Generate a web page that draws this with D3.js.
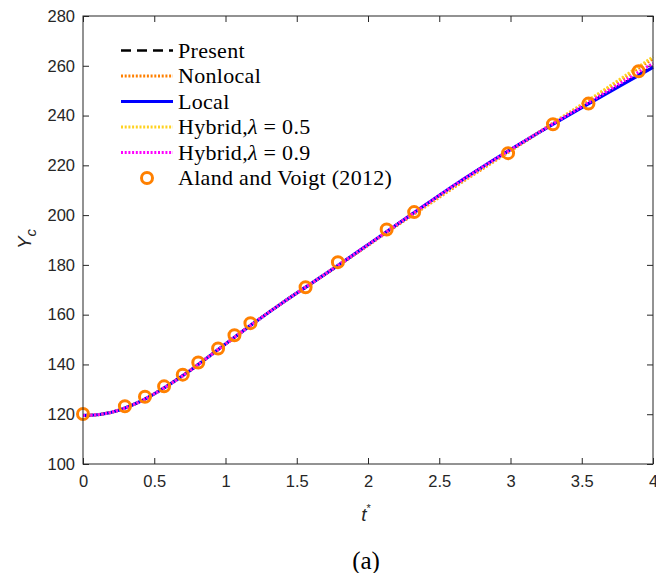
<!DOCTYPE html>
<html>
<head>
<meta charset="utf-8">
<script src="https://cdn.jsdelivr.net/npm/d3@7"></script>
<style>
  body { margin: 0; background: #fff; }
  .tick text { font-family: "Liberation Sans", Arial, sans-serif; font-size: 16.5px; fill: #262626; }
  .legend text { font-family: "Liberation Serif", serif; font-size: 22px; fill: #000; letter-spacing: 0.3px; }
</style>
</head>
<body>
<div id="chart"></div>
<script>
// time grid for the simulated curves
var tGrid = [0, 0.1, 0.2, 0.3, 0.4, 0.5, 0.6, 0.7, 0.8, 0.9, 1.0, 1.2, 1.4, 1.6, 1.8, 2.0, 2.2, 2.4, 2.6, 2.8, 3.0, 3.2, 3.4, 3.6, 3.8, 4.0];

var present  = [119.5, 119.8, 120.8, 122.6, 125.1, 128.2, 131.7, 135.5, 139.6, 143.9, 148.2, 156.7, 164.8, 172.5, 180.2, 188.1, 196.1, 204.0, 211.8, 219.2, 226.3, 233.2, 240.0, 246.6, 253.2, 259.8];
var nonlocal = [119.5, 119.8, 120.8, 122.6, 125.1, 128.2, 131.7, 135.5, 139.6, 143.9, 148.2, 156.7, 164.8, 172.4, 180.0, 187.8, 195.7, 203.3, 211.0, 218.5, 225.8, 233.2, 240.5, 247.8, 255.3, 262.9];
var local    = [119.5, 119.8, 120.8, 122.6, 125.1, 128.2, 131.7, 135.5, 139.6, 143.9, 148.2, 156.7, 164.8, 172.5, 180.2, 188.1, 196.1, 204.0, 211.8, 219.2, 226.3, 233.2, 239.9, 246.4, 252.9, 259.4];
var hybrid05 = [119.5, 119.8, 120.8, 122.6, 125.1, 128.2, 131.7, 135.5, 139.6, 143.9, 148.2, 156.7, 164.8, 172.5, 180.2, 188.0, 196.0, 203.6, 211.3, 218.8, 226.0, 233.4, 240.8, 248.2, 255.8, 263.6];
var hybrid09 = [119.5, 119.8, 120.8, 122.6, 125.1, 128.2, 131.7, 135.5, 139.6, 143.9, 148.2, 156.7, 164.8, 172.5, 180.2, 188.1, 196.1, 204.0, 211.8, 219.2, 226.3, 233.3, 240.2, 247.0, 254.0, 261.0];

// Aland and Voigt (2012) reference points
var refT = [0, 0.294, 0.435, 0.569, 0.700, 0.809, 0.948, 1.063, 1.175, 1.562, 1.789, 2.131, 2.324, 2.983, 3.298, 3.547, 3.899];
var refY = [120.1, 123.2, 127.0, 131.2, 135.9, 140.8, 146.4, 151.7, 156.6, 171.0, 181.1, 194.2, 201.2, 224.9, 236.5, 244.8, 257.8];

var xTicks = [0, 0.5, 1, 1.5, 2, 2.5, 3, 3.5, 4];
var yTicks = [100, 120, 140, 160, 180, 200, 220, 240, 260, 280];

var series = [
  { name: "Present",  values: present,  color: "#000000", width: 2.5, dash: "10,6" },
  { name: "Nonlocal", values: nonlocal, color: "#FF8000", width: 3,   dash: "2,1.7" },
  { name: "Local",    values: local,    color: "#0000FF", width: 3.2, dash: null },
  { name: "Hybrid05", values: hybrid05, color: "#FFD21F", width: 3,   dash: "2,1.7" },
  { name: "Hybrid09", values: hybrid09, color: "#FF00FF", width: 3,   dash: "2,1.7" }
];

var margin = { top: 16, right: 3, bottom: 109, left: 83 };
var W = 656, H = 573;
var width = W - margin.left - margin.right;
var height = H - margin.top - margin.bottom;

var svg = d3.select("#chart").append("svg")
  .attr("width", W)
  .attr("height", H);

var plot = svg.append("g")
  .attr("transform", "translate(" + margin.left + "," + margin.top + ")");

var xScale = d3.scaleLinear().domain([0, 4]).range([0, width]);
var yScale = d3.scaleLinear().domain([100, 280]).range([height, 0]);

var axisColor = "#262626";

// axes (MATLAB style: inward ticks on all four sides)
var xAxis = d3.axisBottom(xScale).tickValues(xTicks).tickSizeInner(-6).tickSizeOuter(0).tickPadding(11)
  .tickFormat(d3.format("~g"));
var xAxisTop = d3.axisTop(xScale).tickValues(xTicks).tickSizeInner(-6).tickSizeOuter(0).tickFormat("");
var yAxis = d3.axisLeft(yScale).tickValues(yTicks).tickSizeInner(-6).tickSizeOuter(0).tickPadding(8);
var yAxisRight = d3.axisRight(yScale).tickValues(yTicks).tickSizeInner(-6).tickSizeOuter(0).tickFormat("");

function styleAxis(g) {
  g.select(".domain").remove();
  g.selectAll(".tick line").attr("stroke", axisColor).attr("stroke-width", 1);
}

plot.append("g").attr("transform", "translate(0," + height + ")").call(xAxis).call(styleAxis);
plot.append("g").call(xAxisTop).call(styleAxis);
plot.append("g").call(yAxis).call(styleAxis);
plot.append("g").attr("transform", "translate(" + width + ",0)").call(yAxisRight).call(styleAxis);

// lines
var line = d3.line()
  .curve(d3.curveCatmullRom)
  .x(function(d, i) { return xScale(tGrid[i]); })
  .y(function(d) { return yScale(d); });

series.forEach(function(s) {
  plot.append("path")
    .datum(s.values)
    .attr("fill", "none")
    .attr("stroke", s.color)
    .attr("stroke-width", s.width)
    .attr("stroke-dasharray", s.dash)
    .attr("d", line);
});

// reference points
plot.selectAll(".ref")
  .data(refT)
  .enter().append("circle")
  .attr("class", "ref")
  .attr("cx", function(d) { return xScale(d); })
  .attr("cy", function(d, i) { return yScale(refY[i]); })
  .attr("r", 5.5)
  .attr("fill", "none")
  .attr("stroke", "#FF8000")
  .attr("stroke-width", 3);

// box
plot.append("rect")
  .attr("width", width).attr("height", height)
  .attr("fill", "none").attr("stroke", axisColor).attr("stroke-width", 1);

// legend
var legend = svg.append("g").attr("class", "legend");
var legendRows = [
  { s: series[0], label: ["Present"] },
  { s: series[1], label: ["Nonlocal"] },
  { s: series[2], label: ["Local"] },
  { s: series[3], label: ["Hybrid,", "λ", " = 0.5"] },
  { s: series[4], label: ["Hybrid,", "λ", " = 0.9"] },
  { s: null, label: ["Aland and Voigt (2012)"] }
];

legendRows.forEach(function(r, i) {
  var y = 50.5 + i * 25.5;
  if (r.s) {
    legend.append("line")
      .attr("x1", 121).attr("x2", 173)
      .attr("y1", y).attr("y2", y)
      .attr("stroke", r.s.color)
      .attr("stroke-width", r.s.width)
      .attr("stroke-dasharray", r.s.dash);
  } else {
    legend.append("circle")
      .attr("cx", 147).attr("cy", y)
      .attr("r", 5.5)
      .attr("fill", "none").attr("stroke", "#FF8000").attr("stroke-width", 3);
  }
  var t = legend.append("text").attr("x", 178).attr("y", y + 7);
  r.label.forEach(function(part) {
    var ts = t.append("tspan").text(part);
    if (part === "λ") ts.attr("font-style", "italic");
  });
});

// axis titles
var xl = svg.append("text")
  .attr("x", margin.left + width / 2 - 2).attr("y", 521)
  .attr("text-anchor", "middle")
  .style("font-family", "Liberation Sans, Arial, sans-serif")
  .style("font-size", "19px").attr("fill", axisColor);
xl.append("tspan").attr("font-style", "italic").text("t");
xl.append("tspan").attr("dy", -9).style("font-size", "11px").text("*");

var yl = svg.append("text")
  .attr("transform", "translate(31," + 239 + ") rotate(-90)")
  .attr("text-anchor", "middle")
  .style("font-family", "Liberation Sans, Arial, sans-serif")
  .style("font-size", "19px").attr("fill", axisColor);
yl.append("tspan").attr("font-style", "italic").text("Y");
yl.append("tspan").attr("dy", 5).attr("font-style", "italic").style("font-size", "15px").text("c");

// caption
svg.append("text")
  .attr("x", 366).attr("y", 569)
  .attr("text-anchor", "middle")
  .style("font-family", "Liberation Serif, serif")
  .style("font-size", "25px")
  .text("(a)");
</script>
</body>
</html>
